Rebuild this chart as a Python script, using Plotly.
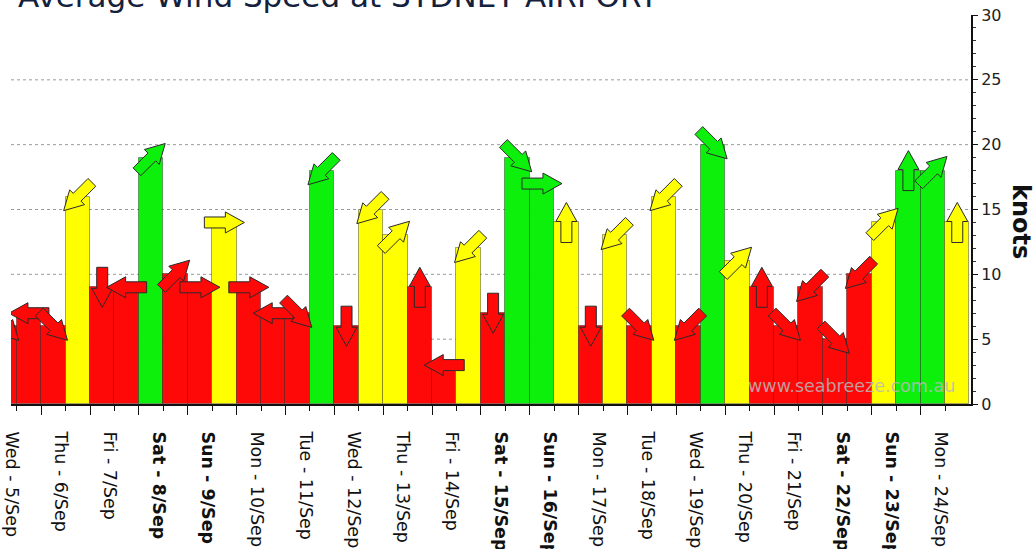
import math
import plotly.graph_objects as go

# ---------------- data ----------------
day_labels = ["Wed - 5/Sep", "Thu - 6/Sep", "Fri - 7/Sep", "Sat - 8/Sep", "Sun - 9/Sep",
              "Mon - 10/Sep", "Tue - 11/Sep", "Wed - 12/Sep", "Thu - 13/Sep", "Fri - 14/Sep",
              "Sat - 15/Sep", "Sun - 16/Sep", "Mon - 17/Sep", "Tue - 18/Sep", "Wed - 19/Sep",
              "Thu - 20/Sep", "Fri - 21/Sep", "Sat - 22/Sep", "Sun - 23/Sep", "Mon - 24/Sep"]
# two readings per day (knots)
speeds = [6, 7, 6, 16, 9, 9, 19, 10, 9, 14,
          9, 7, 7, 18, 6, 15, 13, 9, 3, 12,
          7, 19, 17, 14, 6, 13, 6, 16, 6, 20,
          11, 9, 6, 9, 5, 10, 14, 18, 18, 14]
# direction the wind blows FROM
directions = ["NW", "E", "NW", "NE", "N", "E", "SW", "SW", "W", "W",
              "W", "E", "NW", "NE", "N", "NE", "SW", "S", "E", "NE",
              "N", "NW", "W", "S", "N", "NE", "NW", "NE", "NE", "NW",
              "SW", "S", "NW", "NE", "NW", "NE", "SW", "S", "SW", "S"]
y_ticks = [0, 5, 10, 15, 20, 25, 30]
grid_vals = [5, 10, 15, 20, 25]

# ---------------- styling / geometry ----------------
W, H = 1034, 549
ML, MT = 11, 15
PW, PH = 960, 389
MR = W - ML - PW
MB = H - MT - PH
XR = [0.266, 0.266 + PW / 24.43]
YR = [0, 30]
PX_X = PW / (XR[1] - XR[0])
PX_Y = PH / (YR[1] - YR[0])

RED, YEL, GRN = "#ff0808", "#ffff00", "#0cf00c"


def colour(v):
    if v <= 10:
        return RED
    if v <= 16:
        return YEL
    return GRN


COMPASS = {"N": 0, "NE": 45, "E": 90, "SE": 135, "S": 180, "SW": 225, "W": 270, "NW": 315}

n = len(speeds)
xs = list(range(n))
cols = [colour(v) for v in speeds]

fig = go.Figure()
fig.add_trace(go.Bar(
    x=xs, y=speeds, width=1.0,
    marker=dict(color=cols, line=dict(color="rgba(0,0,0,0.35)", width=1)),
    hoverinfo="skip", showlegend=False))

# block arrows (pixel geometry converted to data units)
L, SW_, HW, HL = 40, 11, 21, 19
local = [(-L / 2, -SW_ / 2), (L / 2 - HL, -SW_ / 2), (L / 2 - HL, -HW / 2), (L / 2, 0),
         (L / 2 - HL, HW / 2), (L / 2 - HL, SW_ / 2), (-L / 2, SW_ / 2), (-L / 2, -SW_ / 2)]
for i, (v, d) in enumerate(zip(speeds, directions)):
    t = math.radians(COMPASS[d] + 180)
    ux, uy = math.sin(t), math.cos(t)
    px_, py_ = -uy, ux
    ax, ay = [], []
    for a, b in local:
        ex = a * ux + b * px_
        ey = a * uy + b * py_
        ax.append(i + ex / PX_X)
        ay.append(v + ey / PX_Y)
    fig.add_trace(go.Scatter(
        x=ax, y=ay, mode="lines", fill="toself", fillcolor=colour(v),
        line=dict(color="#2a2a2a", width=1), hoverinfo="skip", showlegend=False))

# grid lines
for g in grid_vals:
    fig.add_shape(type="line", xref="paper", yref="y", x0=0, x1=1, y0=g, y1=g,
                  line=dict(color="#9a9a9a", width=1, dash="dot"), layer="below")

ticktext = []
for lab in day_labels:
    if lab.startswith("Sat") or lab.startswith("Sun"):
        ticktext.append("<b>" + lab + "</b>")
    else:
        ticktext.append(lab)
label_pos = [2 * k + 0.31 for k in range(len(day_labels))]
short_ticks = [k + 0.5 for k in range(n - 1)]
long_ticks = [2 * k + 1.5 for k in range(len(day_labels) - 1)]

fig.update_layout(
    width=W, height=H, autosize=False,
    margin=dict(l=ML, r=MR, t=MT, b=MB),
    paper_bgcolor="white", plot_bgcolor="white",
    bargap=0,
    xaxis=dict(range=XR, tickmode="array", tickvals=label_pos, ticktext=ticktext,
               tickangle=90, ticks="", ticklabelstandoff=22, automargin=False,
               ticklabeloverflow="allow",
               tickfont=dict(family="DejaVu Sans", size=17.5, color="#111"),
               showgrid=False, zeroline=False, showline=True, linecolor="#111", linewidth=2,
               minor=dict(tickvals=short_ticks, ticks="outside", ticklen=5, tickcolor="#111",
                          tickwidth=1, showgrid=False)),
    xaxis2=dict(range=XR, overlaying="x", anchor="y", side="bottom", tickmode="array",
                tickvals=long_ticks, ticks="outside", ticklen=10, tickwidth=1, tickcolor="#111",
                automargin=False,
                showticklabels=False, showgrid=False, zeroline=False, showline=False),
    yaxis=dict(range=YR, side="right", tickmode="array", tickvals=y_ticks, automargin=False,
               ticklabeloverflow="allow",
               ticks="outside", ticklen=5, tickcolor="#111", tickwidth=1,
               tickfont=dict(family="DejaVu Sans", size=16, color="#222"),
               showgrid=False, zeroline=False, showline=True, linecolor="#111", linewidth=2,
               minor=dict(dtick=1, ticks="outside", ticklen=3, tickcolor="#333", showgrid=False)),
    showlegend=False,
)
# invisible trace to keep xaxis2 alive
fig.add_trace(go.Scatter(x=[XR[0]], y=[0], xaxis="x2", mode="markers",
                         marker=dict(opacity=0), hoverinfo="skip", showlegend=False))

fig.add_annotation(text="Average Wind Speed at SYDNEY AIRPORT", xref="paper", yref="paper",
                   x=(16 - 11) / PW, y=1.0 - 1 / PH, xanchor="left", yanchor="bottom",
                   showarrow=False, font=dict(family="DejaVu Sans", size=31, color="#14213d"))
fig.add_annotation(text="<b>knots</b>", xref="paper", yref="paper",
                   x=(1021 - 11) / PW, y=(404 - 222) / PH, xanchor="center", yanchor="middle",
                   textangle=90, showarrow=False,
                   font=dict(family="DejaVu Sans", size=24, color="#111"))
fig.add_annotation(text="www.seabreeze.com.au", xref="paper", yref="paper",
                   x=(957 - 11) / PW, y=(404 - 386) / PH, xanchor="right", yanchor="middle",
                   showarrow=False,
                   font=dict(family="DejaVu Sans", size=17.5, color="rgba(185,185,185,0.85)"))

fig.write_html("out.html", config={"displayModeBar": False},
               post_script="document.body.style.margin='0';")
